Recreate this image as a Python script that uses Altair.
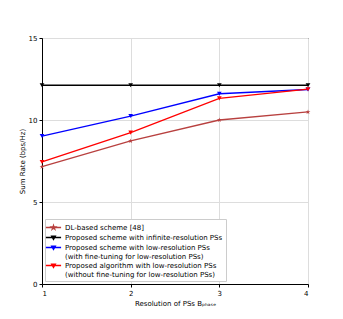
import altair as alt
import pandas as pd

bits = [1, 2, 3, 4]
dl_based = [7.15, 8.72, 10.0, 10.49]
infinite = [12.12, 12.12, 12.12, 12.12]
low_ft = [9.02, 10.24, 11.6, 11.86]
low_noft = [7.44, 9.23, 11.32, 11.88]

names = [
    "DL-based scheme [48]",
    "Proposed scheme with infinite-resolution PSs",
    "Proposed scheme with low-resolution PSs\n (with fine-tuning for low-resolution PSs)",
    "Proposed algorithm with low-resolution PSs\n (without fine-tuning for low-resolution PSs)",
]
colors = ["#b8403f", "#000000", "#0000ff", "#ff0000"]
star = "M0,-1L0.225,-0.31L0.95,-0.31L0.36,0.12L0.59,0.81L0,0.38L-0.59,0.81L-0.36,0.12L-0.95,-0.31L-0.225,-0.31Z"
leg_star = "M-1.6,0L1.6,0M0,-0.45L0.1,-0.14L0.43,-0.14L0.16,0.05L0.27,0.36L0,0.17L-0.27,0.36L-0.16,0.05L-0.43,-0.14L-0.1,-0.14Z"
leg_tri = "M-1.6,0L1.6,0M-0.4,-0.3L0.4,-0.3L0,0.4Z"
leg_shapes = [leg_star, leg_tri, leg_tri, leg_tri]

rows = []
for name, vals in zip(names, [dl_based, infinite, low_ft, low_noft]):
    for b, v in zip(bits, vals):
        rows.append({"bits": b, "rate": v, "series": name})
df = pd.DataFrame(rows)

color_scale = alt.Scale(domain=names, range=colors)

legend = alt.Legend(
    title=None, orient="bottom-left", offset=3,
    labelExpr="split(datum.label, '\\n')",
    strokeColor="#cccccc", fillColor="white", padding=3,
    labelFontSize=7, labelLimit=300, rowPadding=0,
    symbolSize=90, symbolStrokeWidth=1.3, symbolOpacity=1,
    labelOffset=6,
)

x_enc = alt.X("bits:Q", scale=alt.Scale(domain=[1, 4], nice=False),
              axis=alt.Axis(values=[1, 2, 3, 4], title="Resolution of PSs Bₚₕₐₛₑ", format="d"))
y_enc = alt.Y("rate:Q", scale=alt.Scale(domain=[0, 15], nice=False),
              axis=alt.Axis(values=[0, 5, 10, 15], title="Sum Rate (bps/Hz)"))
c_enc = alt.Color("series:N", scale=color_scale, sort=names, legend=legend)

lines = alt.Chart(df).mark_line(strokeWidth=1.3).encode(x=x_enc, y=y_enc, color=c_enc)
star_pts = alt.Chart(df).transform_filter(
    alt.datum.series == names[0]
).mark_point(filled=True, size=26, opacity=1, shape=star).encode(x=x_enc, y=y_enc, color=c_enc)
tri_pts = alt.Chart(df).transform_filter(
    alt.datum.series != names[0]
).mark_point(filled=True, size=22, opacity=1, shape="triangle-down").encode(x=x_enc, y=y_enc, color=c_enc)
legend_layer = alt.Chart(df).transform_filter("datum.bits > 100").mark_point(
    filled=True, opacity=1
).encode(
    x=x_enc, y=y_enc, color=c_enc,
    stroke=alt.Stroke("series:N", scale=color_scale, sort=names, legend=legend),
    shape=alt.Shape("series:N", scale=alt.Scale(domain=names, range=leg_shapes), sort=names,
                    legend=legend),
)

chart = alt.layer(lines, star_pts, tri_pts, legend_layer).properties(
    width=266, height=246,
    autosize=alt.AutoSizeParams(type="none"),
    padding={"left": 34, "top": 30, "right": 20, "bottom": 27},
).configure_view(stroke="black", strokeWidth=1).configure_axis(
    labelFontSize=7, titleFontSize=7, labelColor="black", titleColor="black",
    gridColor="#dddddd", domainColor="black", tickColor="black", tickSize=3,
    labelFont="DejaVu Sans", titleFont="DejaVu Sans", titleFontWeight="normal",
    labelPadding=2, titlePadding=3,
).configure_legend(labelFont="DejaVu Sans", labelColor="black")

chart.save("out.html", embed_options={"renderer": "svg", "actions": False})
